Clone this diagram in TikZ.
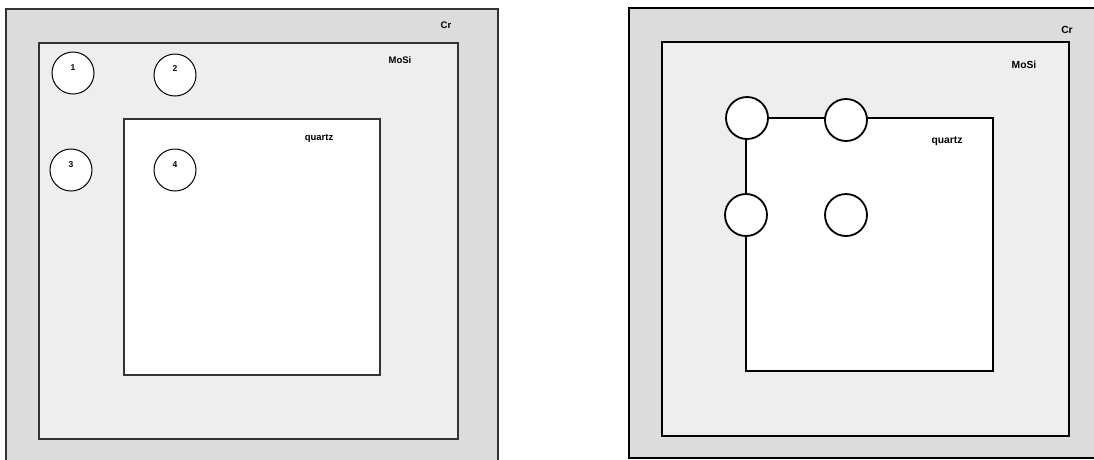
\documentclass[tikz,border=0pt]{standalone}
\usepackage{fontspec}
\setmainfont{Liberation Sans}
\begin{document}
\begin{tikzpicture}[x=1pt,y=-1pt,
  crbox/.style={fill=crgray,draw=linegray,line width=1.2pt},
  mosibox/.style={fill=mosigray,draw=linegray,line width=1.2pt},
  qbox/.style={fill=white,draw=linegray,line width=1.2pt},
  crboxR/.style={fill=crgray,draw=black,line width=2pt},
  mosiboxR/.style={fill=mosigray,draw=black,line width=2pt},
  qboxR/.style={fill=white,draw=black,line width=2pt},
  dot/.style={circle,draw=black,fill=white,line width=1pt,minimum size=42pt,inner sep=0pt},
  dotR/.style={circle,draw=black,fill=white,line width=1.8pt,minimum size=42pt,inner sep=0pt},
  lbl/.style={font=\fontsize{9.5}{10}\selectfont\bfseries,inner sep=0pt},
  lblR/.style={font=\fontsize{10.3}{11}\selectfont\bfseries,inner sep=0pt},
  num/.style={font=\fontsize{8.5}{9}\selectfont\bfseries,inner sep=0pt}]
\definecolor{crgray}{HTML}{DCDCDC}
\definecolor{mosigray}{HTML}{EEEEEE}
\definecolor{linegray}{HTML}{333333}
\useasboundingbox (0,0) rectangle (1094,459);
\clip (0,0) rectangle (1094,459);
% left panel
\draw[crbox] (6,9) rectangle (498,470);
\draw[mosibox] (39,43) rectangle (458,439);
\draw[qbox] (124,119) rectangle (380,375);
\node[lbl] (crL) at (446,25) {Cr};
\node[lbl] (mosiL) at (400,60) {MoSi};
\node[lbl] (quartzL) at (319,138) {quartz};
\node[dot] (c1) at (73,73) {};
\node[dot] (c2) at (175,75) {};
\node[dot] (c3) at (71,170) {};
\node[dot] (c4) at (175,170) {};
\node[num] (n1) at (73,68) {1};
\node[num] (n2) at (175,69) {2};
\node[num] (n3) at (71,165) {3};
\node[num] (n4) at (175,165) {4};
% right panel
\draw[crboxR] (629,8) rectangle (1110,458);
\draw[mosiboxR] (662,42) rectangle (1069,436);
\draw[qboxR] (746,118) rectangle (993,371);
\node[lblR] (crR) at (1067,30) {Cr};
\node[lblR] (mosiR) at (1024,65) {MoSi};
\node[lblR] (quartzR) at (947,141) {quartz};
\node[dotR] (d1) at (747,118) {};
\node[dotR] (d2) at (846,120) {};
\node[dotR] (d3) at (746,215) {};
\node[dotR] (d4) at (846,215) {};
\end{tikzpicture}
\end{document}
